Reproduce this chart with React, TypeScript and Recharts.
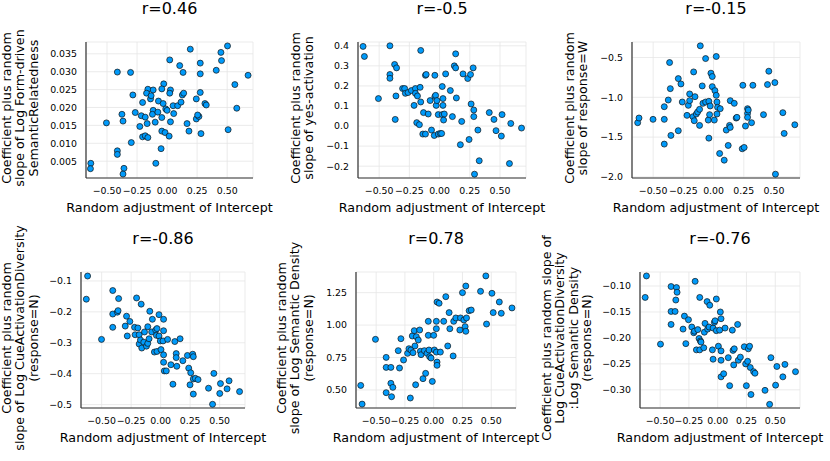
import { ScatterChart, Scatter, XAxis, YAxis, CartesianGrid } from 'recharts'

// random intercept adjustment (x) vs coefficient plus random slope (y), one list per panel
const formDrivenPts: [number, number][] = [
  [-0.635, 0.0044], [-0.638, 0.0029], [-0.505, 0.0157], [-0.414, 0.0299], [-0.304, 0.0298],
  [-0.414, 0.0079], [-0.414, 0.0069], [-0.376, 0.0181], [-0.367, 0.0162], [-0.359, 0.003],
  [-0.367, 0.0014], [-0.298, 0.0102], [-0.285, 0.0235], [-0.265, 0.0186], [-0.227, 0.0147],
  [-0.215, 0.0177], [-0.204, 0.0214], [-0.204, 0.0118], [-0.182, 0.0173], [-0.182, 0.0121],
  [-0.166, 0.0155], [-0.16, 0.0116], [-0.16, 0.0251], [-0.171, 0.024], [-0.138, 0.0224],
  [-0.133, 0.0233], [-0.116, 0.0249], [-0.116, 0.0192], [-0.122, 0.0181], [-0.099, 0.0159],
  [-0.077, 0.0187], [-0.072, 0.0218], [-0.05, 0.0085], [-0.044, 0.0172], [-0.044, 0.0134],
  [-0.033, 0.0211], [-0.028, 0.0266], [-0.044, 0.0252], [-0.011, 0.0196], [0.0, 0.0192],
  [-0.017, 0.013], [0.017, 0.012], [-0.094, 0.0044], [0.022, 0.0333], [0.028, 0.0249],
  [0.022, 0.024], [0.028, 0.016], [0.05, 0.0205], [0.055, 0.0183], [0.088, 0.0205],
  [0.116, 0.0215], [0.127, 0.0235], [0.138, 0.024], [0.105, 0.0317], [0.133, 0.0298],
  [0.193, 0.0363], [0.166, 0.0155], [0.182, 0.0134], [0.243, 0.0168], [0.243, 0.0224],
  [0.265, 0.0175], [0.276, 0.0242], [0.276, 0.0294], [0.276, 0.0324], [0.282, 0.0127],
  [0.315, 0.0211], [0.326, 0.0207], [0.254, 0.0179], [0.409, 0.0304], [0.448, 0.0354],
  [0.453, 0.0331], [0.503, 0.0372], [0.508, 0.0138], [0.564, 0.0264], [0.58, 0.0198],
  [0.674, 0.029],
]

const yesActivationPts: [number, number][] = [
  [-0.633, 0.397], [-0.622, 0.347], [-0.411, 0.4], [-0.506, 0.137], [-0.411, 0.257],
  [-0.411, 0.238], [-0.372, 0.307], [-0.356, 0.29], [-0.367, 0.033], [-0.361, 0.15],
  [-0.306, 0.187], [-0.289, 0.187], [-0.283, 0.163], [-0.261, 0.167], [-0.233, 0.177],
  [-0.211, 0.103], [-0.2, 0.187], [-0.2, 0.163], [-0.183, 0.15], [-0.161, 0.193],
  [-0.156, 0.12], [-0.156, 0.377], [-0.189, 0.017], [-0.167, 0.007], [-0.133, 0.067],
  [-0.117, 0.253], [-0.111, 0.257], [-0.094, 0.06], [-0.078, 0.127], [-0.067, -0.02],
  [-0.139, -0.04], [-0.117, -0.04], [-0.044, -0.047], [-0.039, 0.253], [-0.039, 0.147],
  [-0.033, 0.153], [-0.028, 0.103], [-0.022, 0.127], [-0.011, 0.057], [-0.011, -0.04],
  [0.006, -0.037], [0.017, -0.037], [0.022, 0.057], [0.028, 0.103], [0.028, 0.137],
  [0.033, 0.03], [0.039, 0.06], [0.022, 0.197], [0.05, 0.26], [0.089, 0.177],
  [0.106, 0.047], [0.139, 0.14], [0.122, 0.3], [0.133, 0.29], [0.133, 0.36],
  [0.183, 0.023], [0.172, -0.093], [0.194, 0.26], [0.233, 0.237], [0.256, 0.257],
  [0.278, 0.29], [0.261, 0.11], [0.283, 0.08], [0.283, 0.047], [0.244, -0.067],
  [0.317, -0.02], [0.328, -0.173], [0.289, -0.24], [0.411, 0.067], [0.45, 0.033],
  [0.467, -0.023], [0.511, -0.05], [0.517, 0.057], [0.578, -0.187], [0.589, 0.013],
  [0.678, -0.01],
]

const responseWPts: [number, number][] = [
  [-0.628, -1.319], [-0.617, -1.26], [-0.501, -1.277], [-0.408, -1.277], [-0.408, -1.118],
  [-0.375, -1.034], [-0.358, -0.891], [-0.364, -0.563], [-0.408, -1.588], [-0.353, -1.479],
  [-0.292, -1.42], [-0.292, -0.765], [-0.27, -0.832], [-0.259, -1.059], [-0.22, -1.227],
  [-0.209, -1.101], [-0.198, -1.042], [-0.198, -0.958], [-0.171, -1.244], [-0.165, -0.681],
  [-0.154, -0.992], [-0.16, -1.294], [-0.143, -1.21], [-0.132, -1.185], [-0.116, -1.353],
  [-0.116, -1.151], [-0.11, -0.353], [-0.094, -0.857], [-0.088, -1.076], [-0.066, -0.513],
  [-0.066, -1.059], [-0.044, -1.286], [-0.039, -1.05], [-0.039, -1.513], [-0.033, -1.218],
  [-0.028, -1.109], [-0.022, -0.697], [-0.011, -0.739], [-0.011, -0.866], [0.006, -1.286],
  [0.011, -0.916], [0.022, -0.975], [0.022, -0.487], [0.028, -1.059], [0.033, -1.126],
  [0.028, -1.21], [0.055, -1.143], [0.05, -1.706], [0.088, -1.79], [0.105, -1.412],
  [0.121, -1.605], [0.138, -1.042], [0.132, -1.353], [0.138, -1.378], [0.171, -1.076],
  [0.187, -1.261], [0.193, -1.252], [0.237, -1.647], [0.253, -1.63], [0.242, -0.849],
  [0.264, -1.361], [0.281, -1.143], [0.281, -1.202], [0.281, -1.252], [0.287, -1.16],
  [0.314, -1.319], [0.325, -0.849], [0.413, -1.218], [0.446, -0.84], [0.507, -0.815],
  [0.457, -0.672], [0.512, -1.966], [0.573, -1.193], [0.584, -1.454], [0.672, -1.345],
]

const cueDiversityPts: [number, number][] = [
  [-0.619, -0.084], [-0.63, -0.159], [-0.501, -0.289], [-0.406, -0.131], [-0.406, -0.207],
  [-0.406, -0.25], [-0.367, -0.201], [-0.361, -0.196], [-0.356, -0.157], [-0.3, -0.246],
  [-0.289, -0.214], [-0.283, -0.278], [-0.261, -0.231], [-0.221, -0.25], [-0.216, -0.274],
  [-0.204, -0.155], [-0.193, -0.252], [-0.182, -0.274], [-0.182, -0.304], [-0.171, -0.291],
  [-0.165, -0.175], [-0.16, -0.317], [-0.143, -0.298], [-0.137, -0.265], [-0.12, -0.311],
  [-0.109, -0.302], [-0.109, -0.248], [-0.098, -0.287], [-0.092, -0.198], [-0.07, -0.224],
  [-0.076, -0.265], [-0.053, -0.33], [-0.042, -0.259], [-0.036, -0.276], [-0.031, -0.254],
  [-0.031, -0.328], [-0.014, -0.209], [-0.014, -0.278], [-0.003, -0.294], [0.003, -0.322],
  [0.02, -0.294], [0.025, -0.224], [0.025, -0.261], [0.025, -0.339], [0.025, -0.363],
  [0.031, -0.391], [0.048, -0.391], [0.059, -0.289], [0.087, -0.371], [0.104, -0.434],
  [0.12, -0.296], [0.132, -0.335], [0.132, -0.348], [0.137, -0.376], [0.165, -0.287],
  [0.188, -0.358], [0.227, -0.341], [0.238, -0.382], [0.255, -0.397], [0.272, -0.337],
  [0.277, -0.345], [0.277, -0.417], [0.277, -0.466], [0.294, -0.415], [0.317, -0.419],
  [0.249, -0.436], [0.406, -0.447], [0.451, -0.399], [0.44, -0.499], [0.501, -0.464],
  [0.507, -0.432], [0.563, -0.449], [0.58, -0.423], [0.669, -0.458],
]

const semDensityPts: [number, number][] = [
  [-0.634, 0.535], [-0.622, 0.391], [-0.506, 0.89], [-0.413, 0.751], [-0.413, 0.674],
  [-0.372, 0.674], [-0.413, 0.479], [-0.372, 0.551], [-0.355, 0.52], [-0.366, 0.448],
  [-0.308, 0.803], [-0.297, 0.669], [-0.285, 0.895], [-0.262, 0.731], [-0.227, 0.782],
  [-0.215, 0.818], [-0.198, 0.808], [-0.203, 0.438], [-0.186, 0.916], [-0.18, 0.787],
  [-0.169, 0.957], [-0.163, 0.839], [-0.157, 0.54], [-0.151, 0.911], [-0.134, 0.885],
  [-0.122, 0.962], [-0.116, 0.798], [-0.11, 0.772], [-0.093, 0.587], [-0.07, 0.628],
  [-0.081, 0.803], [-0.058, 0.782], [-0.047, 1.029], [-0.047, 0.921], [-0.041, 0.808],
  [-0.035, 0.756], [-0.023, 0.746], [-0.012, 0.566], [0.0, 0.921], [0.006, 0.808],
  [0.023, 0.792], [0.029, 0.715], [0.029, 0.69], [0.023, 1.029], [0.023, 0.972],
  [0.029, 1.178], [0.047, 1.168], [0.058, 0.792], [0.087, 1.029], [0.105, 1.219],
  [0.122, 0.839], [0.134, 1.096], [0.14, 0.972], [0.169, 0.762], [0.174, 1.029],
  [0.192, 1.055], [0.227, 0.962], [0.233, 1.055], [0.25, 1.25], [0.262, 1.039],
  [0.279, 1.301], [0.273, 0.988], [0.279, 0.952], [0.285, 1.055], [0.308, 1.111],
  [0.326, 1.116], [0.407, 1.26], [0.453, 1.379], [0.459, 1.008], [0.506, 1.245],
  [0.517, 1.096], [0.57, 1.178], [0.587, 1.091], [0.68, 1.132],
]

const interactionPts: [number, number][] = [
  [-0.619, -0.0806], [-0.63, -0.122], [-0.497, -0.212], [-0.405, -0.101], [-0.358, -0.103],
  [-0.353, -0.112], [-0.364, -0.127], [-0.405, -0.149], [-0.37, -0.149], [-0.405, -0.174],
  [-0.289, -0.158], [-0.254, -0.165], [-0.301, -0.183], [-0.277, -0.211], [-0.225, -0.179],
  [-0.208, -0.19], [-0.202, -0.187], [-0.196, -0.091], [-0.185, -0.223], [-0.173, -0.184],
  [-0.162, -0.201], [-0.15, -0.206], [-0.145, -0.208], [-0.156, -0.223], [-0.156, -0.122],
  [-0.121, -0.219], [-0.116, -0.189], [-0.11, -0.172], [-0.092, -0.13], [-0.087, -0.183],
  [-0.075, -0.179], [-0.069, -0.137], [-0.046, -0.223], [-0.04, -0.241], [-0.04, -0.181],
  [-0.029, -0.17], [-0.023, -0.167], [-0.012, -0.125], [-0.012, -0.186], [0.006, -0.216],
  [0.017, -0.185], [0.023, -0.15], [0.029, -0.163], [0.029, -0.225], [0.029, -0.243],
  [0.029, -0.275], [0.052, -0.269], [0.064, -0.181], [0.092, -0.238], [0.104, -0.292],
  [0.127, -0.185], [0.133, -0.224], [0.139, -0.252], [0.144, -0.221], [0.173, -0.174],
  [0.179, -0.243], [0.197, -0.237], [0.231, -0.217], [0.249, -0.292], [0.243, -0.25],
  [0.26, -0.245], [0.266, -0.221], [0.277, -0.216], [0.283, -0.257], [0.289, -0.309],
  [0.312, -0.265], [0.324, -0.268], [0.411, -0.301], [0.451, -0.328], [0.462, -0.238],
  [0.503, -0.291], [0.514, -0.255], [0.566, -0.275], [0.584, -0.251], [0.676, -0.265],
]

const titles = ['r=0.46', 'r=-0.5', 'r=-0.15', 'r=-0.86', 'r=0.78', 'r=-0.76']

const yLabels = [
  ['Coefficient plus random', 'slope of Log Form-driven', 'SemanticRelatedness'],
  ['Coefficient plus random', 'slope of yes-activation'],
  ['Coefficient plus random', 'slope of response=W'],
  ['Coefficient plus random', 'slope of Log CueActivationDiversity', '(response=N)'],
  ['Coefficient plus random', 'slope of Log Semantic Density', '(response=N)'],
  ['Coefficient plus random slope of', 'Log CueActivationDiversity', ':Log Semantic Density', '(response=N)'],
]

const xLabel = 'Random adjustment of Intercept'
const xTicks = [-0.5, -0.25, 0, 0.25, 0.5]

const yTicks = [
  [0.005, 0.01, 0.015, 0.02, 0.025, 0.03, 0.035],
  [-0.2, -0.1, 0, 0.1, 0.2, 0.3, 0.4],
  [-2, -1.5, -1, -0.5],
  [-0.5, -0.4, -0.3, -0.2, -0.1],
  [0.5, 0.75, 1, 1.25],
  [-0.3, -0.25, -0.2, -0.15, -0.1],
]
const yDecimals = [3, 1, 1, 1, 2, 2]

const FONT = '"DejaVu Sans", sans-serif'
const BLUE = '#009AFA'
const X_DOMAIN: [number, number] = [-0.675, 0.715]

// plot-area boxes [left, top, right, bottom], y domains and y-label centre x
const boxes = [
  [86, 42, 253, 178],
  [358, 42, 526, 178],
  [632, 42, 800, 178],
  [81, 272, 245, 408],
  [356, 272, 516, 408],
  [640, 272, 800, 408],
]
const yDomains: [number, number][] = [
  [0.0003, 0.0383],
  [-0.259, 0.419],
  [-2.014, -0.305],
  [-0.511, -0.071],
  [0.361, 1.409],
  [-0.335, -0.073],
]
const yLabelX = [20, 301.5, 576, 20, 295, 566.5]

const allPts = [formDrivenPts, yesActivationPts, responseWPts, cueDiversityPts, semDensityPts, interactionPts]

const fmt = (d: number) => (v: number) => {
  const s = Math.abs(v).toFixed(d)
  return v < 0 ? '\u2212' + s : s
}

const Dot = (props: any) => (
  <circle cx={props.cx} cy={props.cy} r={3} fill={BLUE} stroke="#111" strokeWidth={0.7} />
)

const YW = 60
const TOP = 6
const RIGHT = 6
const XH = 24

function Panel({ i }: { i: number }) {
  const [l, t, r, b] = boxes[i]
  const w = r - l
  const h = b - t
  const data = allPts[i].map(([x, y]) => ({ x, y }))
  const tickStyle = { fontSize: 9.4, fill: '#000', fontFamily: FONT }
  return (
    <div style={{ position: 'absolute', left: l - YW, top: t - TOP }}>
      <ScatterChart width={w + YW + RIGHT} height={h + TOP + XH} margin={{ top: TOP, right: RIGHT, left: 0, bottom: 0 }}>
        <CartesianGrid stroke="#e6e6e6" strokeWidth={0.8} />
        <XAxis
          type="number"
          dataKey="x"
          domain={X_DOMAIN}
          ticks={xTicks}
          interval={0}
          allowDataOverflow
          tickFormatter={fmt(2)}
          height={XH}
          tick={tickStyle}
          tickLine={false}
          tickSize={6}
          tickMargin={3}
          axisLine={{ stroke: '#333', strokeWidth: 1.2 }}
        />
        <YAxis
          type="number"
          dataKey="y"
          domain={yDomains[i]}
          ticks={yTicks[i]}
          interval={0}
          allowDataOverflow
          tickFormatter={fmt(yDecimals[i])}
          width={YW}
          tick={tickStyle}
          tickLine={false}
          tickSize={5}
          tickMargin={4}
          axisLine={{ stroke: '#333', strokeWidth: 1.2 }}
        />
        <Scatter data={data} isAnimationActive={false} shape={Dot} />
      </ScatterChart>
    </div>
  )
}

function Texts({ i }: { i: number }) {
  const [l, t, r, b] = boxes[i]
  const cx = (l + r) / 2
  const top = i < 3 ? 0 : 230
  const center: React.CSSProperties = {
    position: 'absolute',
    transform: 'translate(-50%, -50%)',
    whiteSpace: 'nowrap',
    fontFamily: FONT,
    color: '#000',
  }
  return (
    <>
      <div style={{ ...center, left: cx, top: top + 9, fontSize: 16, lineHeight: '16px' }}>{titles[i]}</div>
      <div style={{ ...center, left: cx, top: top + 207, fontSize: 12.7, lineHeight: '13px' }}>{xLabel}</div>
      <div
        style={{
          ...center,
          left: yLabelX[i],
          top: (t + b) / 2 - 2,
          fontSize: 12.7,
          lineHeight: '13.3px',
          textAlign: 'center',
          transform: 'translate(-50%, -50%) rotate(-90deg)',
        }}
      >
        {yLabels[i].map((s, k) => (
          <div key={k}>{s}</div>
        ))}
      </div>
    </>
  )
}

export default function App() {
  return (
    <div style={{ position: 'absolute', left: 0, top: 0, width: 830, height: 461, background: '#fff', overflow: 'hidden' }}>
      {boxes.map((_, i) => (
        <Panel key={i} i={i} />
      ))}
      {boxes.map((_, i) => (
        <Texts key={'t' + i} i={i} />
      ))}
    </div>
  )
}
